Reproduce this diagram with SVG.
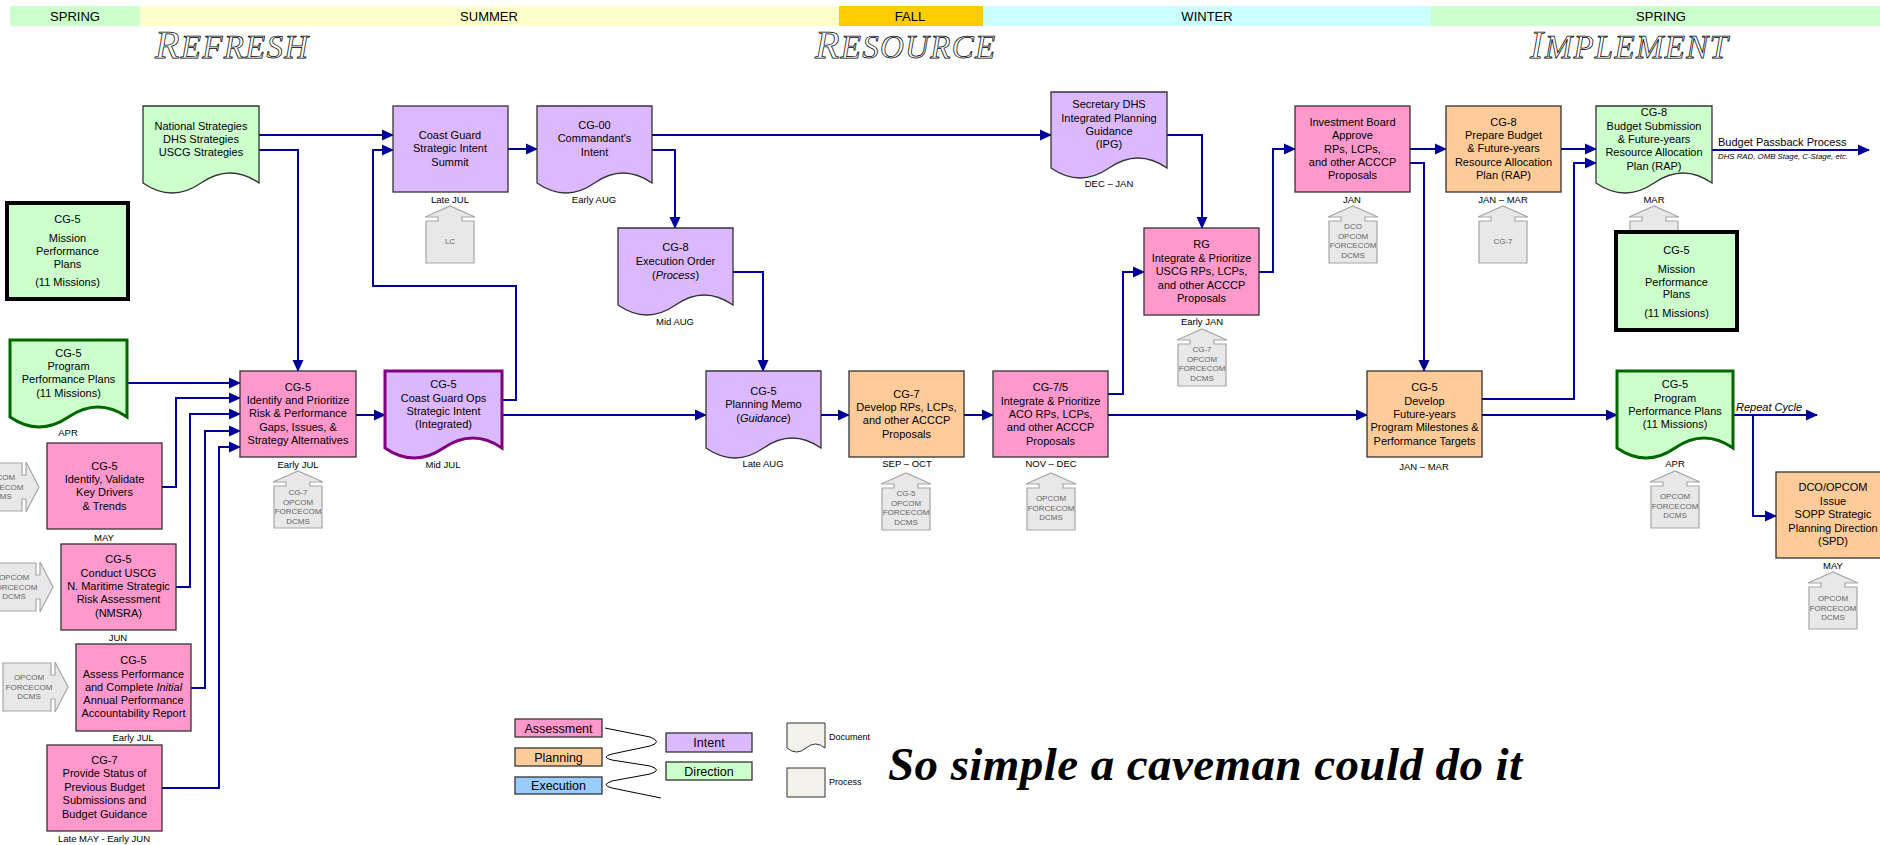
<svg xmlns="http://www.w3.org/2000/svg" xmlns:xlink="http://www.w3.org/1999/xlink" width="1880" height="845" viewBox="0 0 1880 845">
<style>
.t{font-family:"Liberation Sans",Arial,sans-serif;font-size:11px;text-anchor:middle;fill:#000}
.s{font-family:"Liberation Sans",Arial,sans-serif;font-size:9.5px;text-anchor:middle;fill:#000}
.h{font-family:"Liberation Sans",Arial,sans-serif;font-size:8px;text-anchor:middle;fill:#666}
.se{font-family:"Liberation Sans",Arial,sans-serif;font-size:13px;text-anchor:middle;fill:#000}
.ti{font-family:"Liberation Serif","Times New Roman",serif;font-style:italic;fill:#fff;stroke:#000;stroke-width:0.75;letter-spacing:1.3px}
.pk{fill:#FF99CC;stroke:#333;stroke-width:1.3}
.or{fill:#FFCC99;stroke:#333;stroke-width:1.3}
.pu{fill:#DCB9FF;stroke:#333;stroke-width:1.3}
.gr{fill:#CCFFCC;stroke:#333;stroke-width:1.3}
.bl{fill:#99CCFF;stroke:#333;stroke-width:1.3}
.hs{fill:#E8E8E8;stroke:#A6A6A6;stroke-width:1.2}
.c path{fill:none;stroke:#000099;stroke-width:2}
.c path.a{marker-end:url(#ar)}
</style>
<defs>
<marker id="ar" markerUnits="userSpaceOnUse" markerWidth="12" markerHeight="12" refX="11" refY="6" orient="auto">
<path d="M0,0.5 L12,6 L0,11.5 Z" fill="#000099"/>
</marker>
<path id="house" d="M0,11 L25,0 L50,11 L37,11 L37,15 L49,15 L49,57 L1,57 L1,15 L13,15 L13,11 Z"/>
<path id="houseR" d="M0,0 L-13,-25 L-13,-12 L-17,-12 L-17,-24 L-65,-24 L-65,24 L-17,24 L-17,12 L-13,12 L-13,25 Z"/>
</defs>
<rect width="1880" height="845" fill="#fff"/>

<g id="seasons">
<rect x="10" y="6" width="130" height="20" fill="#CCFFCC"/>
<rect x="140" y="6" width="699" height="20" fill="#FFFFCC"/>
<rect x="839" y="6" width="144" height="20" fill="#FFCC00"/>
<rect x="983" y="6" width="448" height="20" fill="#CCFFFF"/>
<rect x="1431" y="6" width="449" height="20" fill="#CCFFCC"/>
<text class="se" x="75" y="20.5">SPRING</text>
<text class="se" x="489" y="20.5">SUMMER</text>
<text class="se" x="910" y="20.5">FALL</text>
<text class="se" x="1207" y="20.5">WINTER</text>
<text class="se" x="1661" y="20.5">SPRING</text>
</g>

<g id="titles">
<text class="ti" x="155" y="58" font-size="33"><tspan font-size="40">R</tspan>EFRESH</text>
<text class="ti" x="815" y="58" font-size="33"><tspan font-size="40">R</tspan>ESOURCE</text>
<text class="ti" x="1530" y="58" font-size="33"><tspan font-size="40">I</tspan>MPLEMENT</text>
</g>

<g id="houses">
<use xlink:href="#house" href="#house" class="hs" x="425" y="206"/>
<text class="h" x="450" y="244">LC</text>
<use xlink:href="#house" href="#house" class="hs" x="273" y="471"/>
<text class="h" x="298"><tspan x="298" y="495">CG-7</tspan><tspan x="298" y="504.5">OPCOM</tspan><tspan x="298" y="514">FORCECOM</tspan><tspan x="298" y="523.5">DCMS</tspan></text>
<use xlink:href="#house" href="#house" class="hs" x="881" y="473"/>
<text class="h" x="906"><tspan x="906" y="496">CG-5</tspan><tspan x="906" y="505.5">OPCOM</tspan><tspan x="906" y="515">FORCECOM</tspan><tspan x="906" y="524.5">DCMS</tspan></text>
<use xlink:href="#house" href="#house" class="hs" x="1026" y="473"/>
<text class="h" x="1051"><tspan x="1051" y="501">OPCOM</tspan><tspan x="1051" y="510.5">FORCECOM</tspan><tspan x="1051" y="520">DCMS</tspan></text>
<use xlink:href="#house" href="#house" class="hs" x="1177" y="329"/>
<text class="h" x="1202"><tspan x="1202" y="352">CG-7</tspan><tspan x="1202" y="361.5">OPCOM</tspan><tspan x="1202" y="371">FORCECOM</tspan><tspan x="1202" y="380.5">DCMS</tspan></text>
<use xlink:href="#house" href="#house" class="hs" x="1328" y="206"/>
<text class="h" x="1353"><tspan x="1353" y="229">DCO</tspan><tspan x="1353" y="238.5">OPCOM</tspan><tspan x="1353" y="248">FORCECOM</tspan><tspan x="1353" y="257.5">DCMS</tspan></text>
<use xlink:href="#house" href="#house" class="hs" x="1478" y="206"/>
<text class="h" x="1503" y="244">CG-7</text>
<use xlink:href="#house" href="#house" class="hs" x="1629" y="206"/>
<use xlink:href="#house" href="#house" class="hs" x="1650" y="471"/>
<text class="h" x="1675"><tspan x="1675" y="499">OPCOM</tspan><tspan x="1675" y="508.5">FORCECOM</tspan><tspan x="1675" y="518">DCMS</tspan></text>
<use xlink:href="#house" href="#house" class="hs" x="1808" y="572"/>
<text class="h" x="1833"><tspan x="1833" y="601">OPCOM</tspan><tspan x="1833" y="610.5">FORCECOM</tspan><tspan x="1833" y="620">DCMS</tspan></text>
<use xlink:href="#houseR" href="#houseR" class="hs" transform="translate(39,487)"/>
<text class="h" x="0"><tspan x="0" y="480">OPCOM</tspan><tspan x="0" y="489.5">FORCECOM</tspan><tspan x="0" y="499">DCMS</tspan></text>
<use xlink:href="#houseR" href="#houseR" class="hs" transform="translate(53,587)"/>
<text class="h" x="14"><tspan x="14" y="580">OPCOM</tspan><tspan x="14" y="589.5">FORCECOM</tspan><tspan x="14" y="599">DCMS</tspan></text>
<use xlink:href="#houseR" href="#houseR" class="hs" transform="translate(68,687)"/>
<text class="h" x="29"><tspan x="29" y="680">OPCOM</tspan><tspan x="29" y="689.5">FORCECOM</tspan><tspan x="29" y="699">DCMS</tspan></text>
</g>

<g id="connectors" class="c">
<path class="a" d="M259,135 H393"/>
<path class="a" d="M259,150 H298 V371"/>
<path class="a" d="M502,400 H516 V286 H373 V150 H393"/>
<path class="a" d="M508,149 H537"/>
<path class="a" d="M652,135 H1051"/>
<path class="a" d="M652,150 H675 V228"/>
<path class="a" d="M733,272 H763 V371"/>
<path class="a" d="M127,383 H240"/>
<path class="a" d="M162,487 H176 V398 H240"/>
<path class="a" d="M176,587 H190 V414 H240"/>
<path class="a" d="M191,688 H205 V431 H240"/>
<path class="a" d="M162,788 H219 V447 H240"/>
<path class="a" d="M356,415 H385"/>
<path class="a" d="M502,415 H706"/>
<path class="a" d="M821,415 H849"/>
<path class="a" d="M964,415 H993"/>
<path class="a" d="M1108,415 H1367"/>
<path class="a" d="M1108,394 H1123 V272 H1144"/>
<path class="a" d="M1167,135 H1202 V228"/>
<path class="a" d="M1259,272 H1273 V149 H1295"/>
<path class="a" d="M1410,149 H1446"/>
<path class="a" d="M1410,163 H1424 V371"/>
<path class="a" d="M1561,149 H1596"/>
<path class="a" d="M1482,399 H1574 V163 H1596"/>
<path class="a" d="M1712,150 H1869"/>
<path class="a" d="M1482,415 H1617"/>
<path class="a" d="M1733,415 H1817"/>
<path class="a" d="M1753,415 V516 H1776"/>
</g>

<g id="n-national">
<path class="gr" d="M143,106 H259 V183 Q230,163 201,183 T143,183 Z"/>
<text class="t"><tspan x="201" y="130">National Strategies</tspan><tspan x="201" y="143">DHS Strategies</tspan><tspan x="201" y="156">USCG Strategies</tspan></text>
</g>

<g id="n-summit">
<rect class="pu" x="393" y="106" width="115" height="86"/>
<text class="t"><tspan x="450" y="139">Coast Guard</tspan><tspan x="450" y="152">Strategic Intent</tspan><tspan x="450" y="166">Summit</tspan></text>
<text class="s" x="450" y="202.5">Late JUL</text>
</g>

<g id="n-cg00">
<path class="pu" d="M537,106 H652 V183 Q623,163 594.5,183 T537,183 Z"/>
<text class="t"><tspan x="594.5" y="129">CG-00</tspan><tspan x="594.5" y="142">Commandant's</tspan><tspan x="594.5" y="156">Intent</tspan></text>
<text class="s" x="594" y="202.5">Early AUG</text>
</g>

<g id="n-cg8exec">
<path class="pu" d="M618,228 H733 V305 Q704,285 675.5,305 T618,305 Z"/>
<text class="t"><tspan x="675.5" y="251">CG-8</tspan><tspan x="675.5" y="265">Execution Order</tspan><tspan x="675.5" y="279">(<tspan font-style="italic">Process</tspan>)</tspan></text>
<text class="s" x="675" y="324.5">Mid AUG</text>
</g>

<g id="n-memo">
<path class="pu" d="M706,371 H821 V448 Q792,428 763.5,448 T706,448 Z"/>
<text class="t"><tspan x="763.5" y="395">CG-5</tspan><tspan x="763.5" y="408">Planning Memo</tspan><tspan x="763.5" y="422">(<tspan font-style="italic">Guidance</tspan>)</tspan></text>
<text class="s" x="763" y="466.5">Late AUG</text>
</g>

<g id="n-cg7dev">
<rect class="or" x="849" y="371" width="115" height="86"/>
<text class="t"><tspan x="906.5" y="398">CG-7</tspan><tspan x="906.5" y="411">Develop RPs, LCPs,</tspan><tspan x="906.5" y="424">and other ACCCP</tspan><tspan x="906.5" y="438">Proposals</tspan></text>
<text class="s" x="907" y="466.5">SEP – OCT</text>
</g>

<g id="n-cg75">
<rect class="pk" x="993" y="371" width="115" height="86"/>
<text class="t"><tspan x="1050.5" y="391">CG-7/5</tspan><tspan x="1050.5" y="405">Integrate &amp; Prioritize</tspan><tspan x="1050.5" y="418">ACO RPs, LCPs,</tspan><tspan x="1050.5" y="431">and other ACCCP</tspan><tspan x="1050.5" y="445">Proposals</tspan></text>
<text class="s" x="1051" y="466.5">NOV – DEC</text>
</g>

<g id="n-ipg">
<path class="pu" d="M1051,92 H1167 V168 Q1138,148 1109,168 T1051,168 Z"/>
<text class="t"><tspan x="1109" y="108">Secretary DHS</tspan><tspan x="1109" y="122">Integrated Planning</tspan><tspan x="1109" y="135">Guidance</tspan><tspan x="1109" y="148">(IPG)</tspan></text>
<text class="s" x="1109" y="186.5">DEC – JAN</text>
</g>

<g id="n-rg">
<rect class="pk" x="1144" y="228" width="115" height="87"/>
<text class="t"><tspan x="1201.5" y="248">RG</tspan><tspan x="1201.5" y="262">Integrate &amp; Prioritize</tspan><tspan x="1201.5" y="275">USCG RPs, LCPs,</tspan><tspan x="1201.5" y="289">and other ACCCP</tspan><tspan x="1201.5" y="302">Proposals</tspan></text>
<text class="s" x="1202" y="324.5">Early JAN</text>
</g>

<g id="n-invboard">
<rect class="pk" x="1295" y="106" width="115" height="86"/>
<text class="t"><tspan x="1352.5" y="126">Investment Board</tspan><tspan x="1352.5" y="139">Approve</tspan><tspan x="1352.5" y="153">RPs, LCPs,</tspan><tspan x="1352.5" y="166">and other ACCCP</tspan><tspan x="1352.5" y="179">Proposals</tspan></text>
<text class="s" x="1352" y="202.5">JAN</text>
</g>

<g id="n-cg8prep">
<rect class="or" x="1446" y="106" width="115" height="86"/>
<text class="t"><tspan x="1503.5" y="126">CG-8</tspan><tspan x="1503.5" y="139">Prepare Budget</tspan><tspan x="1503.5" y="152">&amp; Future-years</tspan><tspan x="1503.5" y="166">Resource Allocation</tspan><tspan x="1503.5" y="179">Plan (RAP)</tspan></text>
<text class="s" x="1503" y="202.5">JAN – MAR</text>
</g>

<g id="n-cg8sub">
<path class="gr" d="M1596,106 H1712 V183 Q1683,163 1654,183 T1596,183 Z"/>
<text class="t"><tspan x="1654" y="116">CG-8</tspan><tspan x="1654" y="130">Budget Submission</tspan><tspan x="1654" y="143">&amp; Future-years</tspan><tspan x="1654" y="156">Resource Allocation</tspan><tspan x="1654" y="170">Plan (RAP)</tspan></text>
<text class="s" x="1654" y="202.5">MAR</text>
<text class="t" x="1718" y="146" style="text-anchor:start">Budget Passback Process</text>
<text class="t" x="1718" y="159" style="text-anchor:start;font-size:8px;font-style:italic" textLength="130" lengthAdjust="spacingAndGlyphs">DHS RAD, OMB Stage, C-Stage, etc.</text>
</g>

<g id="n-mission-r">
<rect x="1616" y="232" width="121" height="98" fill="#CCFFCC" stroke="#000" stroke-width="4"/>
<text class="t"><tspan x="1676.5" y="254">CG-5</tspan><tspan x="1676.5" y="273">Mission</tspan><tspan x="1676.5" y="286">Performance</tspan><tspan x="1676.5" y="298">Plans</tspan><tspan x="1676.5" y="317">(11 Missions)</tspan></text>
</g>

<g id="n-cg5dev">
<rect class="or" x="1367" y="371" width="115" height="86"/>
<text class="t"><tspan x="1424.5" y="391">CG-5</tspan><tspan x="1424.5" y="405">Develop</tspan><tspan x="1424.5" y="418">Future-years</tspan><tspan x="1424.5" y="431">Program Milestones &amp;</tspan><tspan x="1424.5" y="445">Performance Targets</tspan></text>
<text class="s" x="1424" y="469.5">JAN – MAR</text>
</g>

<g id="n-ppp-r">
<path d="M1617,371 H1733 V448 Q1704,428 1675,448 T1617,448 Z" fill="#CCFFCC" stroke="#006600" stroke-width="3"/>
<text class="t"><tspan x="1675" y="388">CG-5</tspan><tspan x="1675" y="402">Program</tspan><tspan x="1675" y="415">Performance Plans</tspan><tspan x="1675" y="428">(11 Missions)</tspan></text>
<text class="s" x="1675" y="466.5">APR</text>
<text class="t" x="1736" y="411" style="text-anchor:start;font-style:italic">Repeat Cycle</text>
</g>

<g id="n-spd">
<rect class="or" x="1776" y="472" width="115" height="86"/>
<text class="t"><tspan x="1833" y="491">DCO/OPCOM</tspan><tspan x="1833" y="505">Issue</tspan><tspan x="1833" y="518">SOPP Strategic</tspan><tspan x="1833" y="532">Planning Direction</tspan><tspan x="1833" y="545">(SPD)</tspan></text>
<text class="s" x="1833" y="568.5">MAY</text>
</g>

<g id="n-mission-l">
<rect x="7" y="203" width="121" height="96" fill="#CCFFCC" stroke="#000" stroke-width="4"/>
<text class="t"><tspan x="67.5" y="223">CG-5</tspan><tspan x="67.5" y="242">Mission</tspan><tspan x="67.5" y="255">Performance</tspan><tspan x="67.5" y="268">Plans</tspan><tspan x="67.5" y="286">(11 Missions)</tspan></text>
</g>

<g id="n-ppp-l">
<path d="M10,340 H127 V417 Q98,397 68.5,417 T10,417 Z" fill="#CCFFCC" stroke="#006600" stroke-width="3"/>
<text class="t"><tspan x="68.5" y="357">CG-5</tspan><tspan x="68.5" y="370">Program</tspan><tspan x="68.5" y="383">Performance Plans</tspan><tspan x="68.5" y="397">(11 Missions)</tspan></text>
<text class="s" x="68" y="435.5">APR</text>
</g>

<g id="n-identify">
<rect class="pk" x="240" y="371" width="116" height="86"/>
<text class="t"><tspan x="298" y="391">CG-5</tspan><tspan x="298" y="404">Identify and Prioritize</tspan><tspan x="298" y="417">Risk &amp; Performance</tspan><tspan x="298" y="431">Gaps, Issues, &amp;</tspan><tspan x="298" y="444">Strategy Alternatives</tspan></text>
<text class="s" x="298" y="467.5">Early JUL</text>
</g>

<g id="n-cgops">
<path d="M385,371 H502 V448 Q473,428 443.5,448 T385,448 Z" fill="#DCB9FF" stroke="#800080" stroke-width="3"/>
<text class="t"><tspan x="443.5" y="388">CG-5</tspan><tspan x="443.5" y="402">Coast Guard Ops</tspan><tspan x="443.5" y="415">Strategic Intent</tspan><tspan x="443.5" y="428">(Integrated)</tspan></text>
<text class="s" x="443" y="467.5">Mid JUL</text>
</g>

<g id="n-drivers">
<rect class="pk" x="47" y="443" width="115" height="86"/>
<text class="t"><tspan x="104.5" y="470">CG-5</tspan><tspan x="104.5" y="483">Identify, Validate</tspan><tspan x="104.5" y="496">Key Drivers</tspan><tspan x="104.5" y="510">&amp; Trends</tspan></text>
<text class="s" x="104" y="540.5">MAY</text>
</g>

<g id="n-nmsra">
<rect class="pk" x="61" y="544" width="115" height="86"/>
<text class="t"><tspan x="118.5" y="563">CG-5</tspan><tspan x="118.5" y="577">Conduct USCG</tspan><tspan x="118.5" y="590">N. Maritime Strategic</tspan><tspan x="118.5" y="603">Risk Assessment</tspan><tspan x="118.5" y="617">(NMSRA)</tspan></text>
<text class="s" x="118" y="640.5">JUN</text>
</g>

<g id="n-assess">
<rect class="pk" x="76" y="644" width="115" height="87"/>
<text class="t"><tspan x="133.5" y="664">CG-5</tspan><tspan x="133.5" y="678">Assess Performance</tspan><tspan x="133.5" y="691">and Complete <tspan font-style="italic">Initial</tspan></tspan><tspan x="133.5" y="704">Annual Performance</tspan><tspan x="133.5" y="717">Accountability Report</tspan></text>
<text class="s" x="133" y="740.5">Early JUL</text>
</g>

<g id="n-status">
<rect class="pk" x="47" y="745" width="115" height="86"/>
<text class="t"><tspan x="104.5" y="764">CG-7</tspan><tspan x="104.5" y="777">Provide Status of</tspan><tspan x="104.5" y="791">Previous Budget</tspan><tspan x="104.5" y="804">Submissions and</tspan><tspan x="104.5" y="818">Budget Guidance</tspan></text>
<text class="s" x="104" y="841.5">Late MAY - Early JUN</text>
</g>

<g id="legend">
<rect class="pk" x="515" y="719" width="87" height="18"/>
<rect class="or" x="515" y="748" width="87" height="18"/>
<rect class="bl" x="515" y="777" width="87" height="17"/>
<rect class="pu" x="666" y="733" width="86" height="19"/>
<rect class="gr" x="666" y="762" width="86" height="18"/>
<text class="t" style="font-size:12.5px"><tspan x="558.5" y="732.5">Assessment</tspan><tspan x="558.5" y="761.5">Planning</tspan><tspan x="558.5" y="790">Execution</tspan><tspan x="709" y="747">Intent</tspan><tspan x="709" y="775.5">Direction</tspan></text>
<path d="M605,728 L650,737 Q663,742 650,746 L612,754 Q600,757 612,760 L650,766 Q663,770 650,774 L612,781 Q600,785 612,788 L661,798" fill="none" stroke="#000" stroke-width="1"/>
<path d="M787,723 H825 V748 Q815.5,740 806,748 T787,748 Z" fill="#F2F2EA" stroke="#333" stroke-width="1"/>
<rect x="787" y="768" width="38" height="29" fill="#F2F2EA" stroke="#333" stroke-width="1"/>
<text class="s" style="text-anchor:start;font-size:9px"><tspan x="829" y="740">Document</tspan><tspan x="829" y="785">Process</tspan></text>
</g>

<text x="888" y="780" font-family="'Liberation Serif','Times New Roman',serif" font-size="47" font-weight="bold" font-style="italic" fill="#000" textLength="634" lengthAdjust="spacing">So simple a caveman could do it</text>
</svg>
